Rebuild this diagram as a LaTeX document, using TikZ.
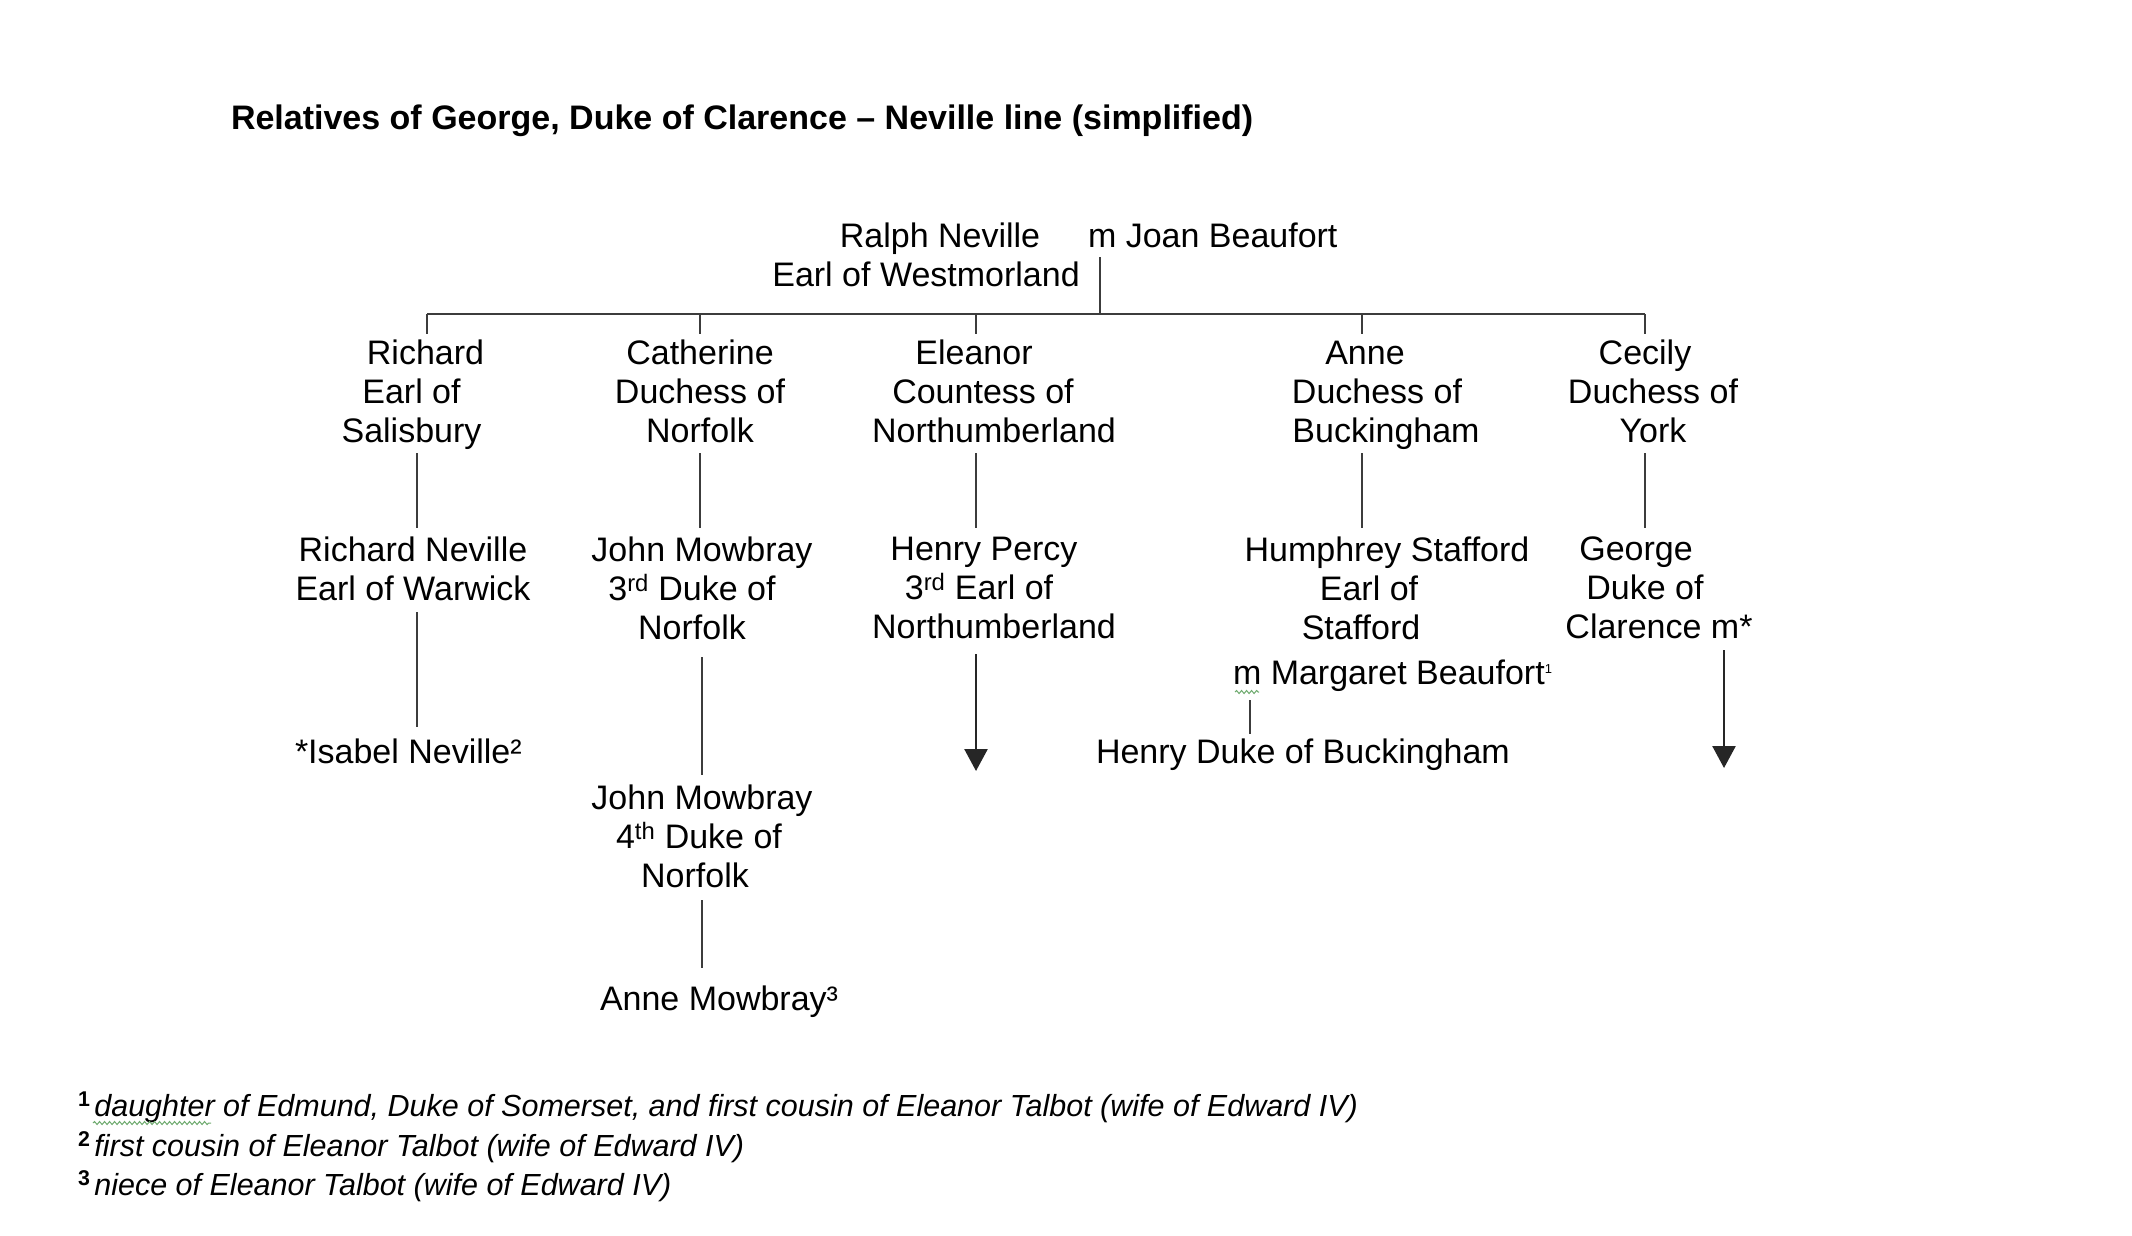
\documentclass[tikz,border=0pt]{standalone}
\usepackage{fontspec}
\setmainfont{Liberation Sans}
\usetikzlibrary{arrows.meta,calc,decorations.pathmorphing}
\definecolor{squiggreen}{RGB}{110,170,110}
\definecolor{linegray}{RGB}{60,60,60}
\newcommand{\padr}[1]{\rule{#1}{0pt}}
\begin{document}
\begin{tikzpicture}[x=1pt,y=-1pt,
  every node/.style={inner sep=0pt,outer sep=0pt,font=\fontsize{34}{39}\selectfont},
  person/.style={align=center,anchor=north},
  single/.style={anchor=base west},
  fnote/.style={anchor=base west,font=\fontsize{30.5}{39}\selectfont},
  conn/.style={draw=linegray,line width=2.5pt},
  arr/.style={conn,draw=black!85,-{Triangle[width=23pt,length=22pt]}},
  squig/.style={draw=squiggreen,line width=1pt,decorate,decoration={snake,amplitude=1.5pt,segment length=5pt}}
]
\useasboundingbox[fill=white] (0,0) rectangle (2132,1235);

% title
\node[anchor=base west,font=\bfseries\fontsize{34}{39}\selectfont] (title) at (231,129)
  {Relatives of George, Duke of Clarence – Neville line (simplified)};

% generation 0
\node[person] (ralph) at (926,223) {\padr{28pt}Ralph Neville\\Earl of Westmorland};
\node[single] (joan) at (1088,247) {m Joan Beaufort};

% generation 1
\node[person] (sal)  at (411.5,340) {\padr{28pt}Richard\\Earl of\\Salisbury};
\node[person] (cath) at (700,340)   {Catherine\\Duchess of\\Norfolk};
\node[person] (elea) at (994,340)   {Eleanor\padr{40pt}\\Countess of\padr{22pt}\\Northumberland};
\node[person] (anne) at (1386,341)  {Anne\padr{42pt}\\Duchess of\padr{18pt}\\Buckingham};
\node[person] (cec)  at (1653,340)  {Cecily\padr{16pt}\\Duchess of\\York};

% generation 2
\node[person] (war) at (413,537)  {Richard Neville\\Earl of Warwick};
\node[person] (jm3) at (702,537)  {John Mowbray\\3\textsuperscript{rd} Duke of\padr{20pt}\\Norfolk\padr{20pt}};
\node[person] (hp)  at (994,537)  {Henry Percy\padr{20pt}\\3\textsuperscript{rd} Earl of\padr{30pt}\\Northumberland};
\node[person] (hum) at (1387,537) {Humphrey Stafford\\Earl of\padr{36pt}\\Stafford\padr{52pt}};
\node[single] (marg) at (1233,684) {m Margaret Beaufort\raisebox{11pt}{\fontsize{13}{13}\selectfont 1}};
\node[person] (geo) at (1659,537) {George\padr{46pt}\\Duke of\padr{28pt}\\Clarence m*};

% generation 3
\node[single] (isa) at (295,763)  {*Isabel Neville²};
\node[single] (hdb) at (1096,763) {Henry Duke of Buckingham};
\node[person] (jm4) at (702,785)  {John Mowbray\\4\textsuperscript{th} Duke of\padr{6pt}\\Norfolk\padr{14pt}};

% generation 4
\node[single] (amw) at (600,1010) {Anne Mowbray³};

% footnotes
\node[fnote] (fn1) at (78,1116) {\textsuperscript{\bfseries 1}\hspace{4pt}\itshape daughter of Edmund, Duke of Somerset, and first cousin of Eleanor Talbot (wife of Edward IV)};
\node[fnote] (fn2) at (78,1156) {\textsuperscript{\bfseries 2}\hspace{4pt}\itshape first cousin of Eleanor Talbot (wife of Edward IV)};
\node[fnote] (fn3) at (78,1195) {\textsuperscript{\bfseries 3}\hspace{4pt}\itshape niece of Eleanor Talbot (wife of Edward IV)};

% spell-check squiggles
\draw[squig] ($(marg.base west)+(2,8)$) -- ++(24,0);
\draw[squig] ($(fn1.base west)+(15,7)$) -- ++(118,0);

% bar
\coordinate (bar) at (1100,314);
\coordinate (d1) at (427,314);
\coordinate (d2) at (700,314);
\coordinate (d3) at (976,314);
\coordinate (d4) at (1362,314);
\coordinate (d5) at (1645,314);
\draw[conn] ($(joan.base west)+(12,10)$) -- (bar);
\draw[conn] (d1) -- (d5);
\draw[conn] (d1) -- ($(d1 |- sal.north)+(0,-6)$);
\draw[conn] (d2) -- ($(d2 |- cath.north)+(0,-6)$);
\draw[conn] (d3) -- ($(d3 |- elea.north)+(0,-6)$);
\draw[conn] (d4) -- ($(d4 |- sal.north)+(0,-6)$);
\draw[conn] (d5) -- ($(d5 |- cec.north)+(0,-6)$);

% generation 1 -> 2
\draw[conn] ($(sal.north)+(5.5,113)$)  -- ($(war.north)+(4,-9)$);
\draw[conn] ($(cath.north)+(0,113)$)   -- ($(jm3.north)+(-2,-9)$);
\draw[conn] ($(elea.north)+(-18,113)$) -- ($(hp.north)+(-18,-9)$);
\draw[conn] ($(anne.north)+(-24,112)$) -- ($(hum.north)+(-25,-9)$);
\draw[conn] ($(cec.north)+(-8,113)$)   -- ($(geo.north)+(-14,-9)$);

% generation 2 -> 3
\draw[conn] ($(war.north)+(4,75)$) -- ($(isa.base west)+(122,-36)$);
\draw[conn] ($(jm3.north)+(0,120)$) -- ($(jm4.north)+(0,-10)$);
\draw[arr]  ($(hp.north)+(-18,117)$) -- ($(hp.north)+(-18,234)$);
\draw[conn] ($(marg.base west)+(17,16)$) -- ($(hdb.base west)+(154,-29)$);
\draw[arr]  ($(geo.north)+(65,113)$) -- ($(geo.north)+(65,231)$);

% generation 3 -> 4
\draw[conn] ($(jm4.north)+(0,115)$) -- ($(amw.base west)+(102,-42)$);
\end{tikzpicture}
\end{document}
